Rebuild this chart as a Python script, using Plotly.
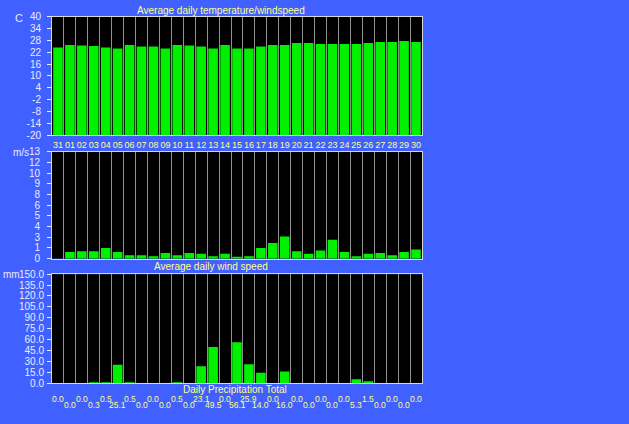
import plotly.graph_objects as go

days = ["31", "01", "02", "03", "04", "05", "06", "07", "08", "09", "10", "11", "12", "13", "14", "15",
        "16", "17", "18", "19", "20", "21", "22", "23", "24", "25", "26", "27", "28", "29", "30"]
temperature = [24.4, 25.7, 25.4, 25.2, 24.4, 23.9, 25.7, 24.9, 24.9, 23.9, 25.7, 25.4, 24.9, 23.9, 25.7, 23.9,
               23.9, 24.9, 25.7, 25.7, 26.7, 26.7, 26.2, 26.2, 26.2, 26.2, 26.7, 27.2, 27.2, 27.7, 27.2]
wind = [0.0, 0.8, 0.9, 0.9, 1.3, 0.8, 0.4, 0.4, 0.3, 0.7, 0.4, 0.7, 0.6, 0.3, 0.6, 0.2,
        0.3, 1.3, 1.9, 2.7, 0.9, 0.6, 1.0, 2.3, 0.8, 0.3, 0.6, 0.7, 0.4, 0.8, 1.1]
precip = [0.0, 0.0, 0.0, 0.3, 0.5, 25.1, 0.5, 0.0, 0.0, 0.0, 0.5, 0.0, 23.1, 49.5, 0.0, 56.1,
          25.9, 14.0, 0.0, 16.0, 0.0, 0.0, 0.0, 0.0, 0.0, 5.3, 1.5, 0.0, 0.0, 0.0, 0.0]
temp_ticks = [-20, -14, -8, -2, 4, 10, 16, 22, 28, 34, 40]
wind_tick_vals = [0, 1.3, 2.6, 3.9, 5.2, 6.5, 7.8, 9.1, 10.4, 11.7, 13.0]
wind_tick_text = ["0", "1", "3", "4", "5", "6", "8", "9", "10", "12", "13"]
precip_ticks = [0, 15, 30, 45, 60, 75, 90, 105, 120, 135, 150]
TEMP_FLOOR = -20

BG = "#4060FF"
GREEN = "#00F000"
WHITE = "#E8ECFF"
YELLOW = "#FFFF88"
FONT = "Liberation Sans"

W, H = 629, 424
def px(x):
    return x / W
def py(y):
    return 1 - y / H

x = list(range(len(days)))

fig = go.Figure()
fig.add_trace(go.Bar(x=x, y=[t - TEMP_FLOOR for t in temperature], base=TEMP_FLOOR,
                     marker=dict(color=GREEN, line=dict(width=0)),
                     xaxis="x", yaxis="y", showlegend=False))
fig.add_trace(go.Bar(x=x, y=wind, marker=dict(color=GREEN, line=dict(width=0)),
                     xaxis="x2", yaxis="y2", showlegend=False))
fig.add_trace(go.Bar(x=x, y=precip, marker=dict(color=GREEN, line=dict(width=0)),
                     xaxis="x3", yaxis="y3", showlegend=False))

def xax(anchor, labels):
    d = dict(domain=[px(52), px(422)], anchor=anchor, range=[-0.5, len(days) - 0.5],
             showgrid=False, zeroline=False, showline=True, linecolor="#D8D8D8", linewidth=1, mirror=True,
             tickmode="array", tickvals=x, ticks="", tickangle=0,
             minor=dict(tickmode="linear", tick0=0.5, dtick=1, showgrid=True, gridcolor="#909090",
                        gridwidth=1, ticks=""),
             fixedrange=True)
    if labels:
        d.update(ticktext=days, showticklabels=True, ticklabelstandoff=1,
                 tickfont=dict(family=FONT, size=9, color=YELLOW))
    else:
        d.update(ticktext=[""] * len(days), showticklabels=False)
    return d

def yax(anchor, dom, rng, vals, texts, standoff):
    d = dict(domain=dom, anchor=anchor, range=rng, tickmode="array", tickvals=vals, ticktext=texts,
             showgrid=False, zeroline=False, showline=True, linecolor="#D8D8D8", linewidth=1, mirror=True,
             ticks="outside", ticklen=4, tickcolor=WHITE, ticklabelstandoff=standoff,
             tickfont=dict(family=FONT, size=10, color=WHITE), fixedrange=True)
    return d

fig.update_layout(
    width=W, height=H, autosize=False,
    margin=dict(l=0, r=0, t=0, b=0),
    paper_bgcolor=BG, plot_bgcolor="black",
    bargap=0.2,
    font=dict(family=FONT, color=WHITE),
    xaxis=xax("y", True),
    xaxis2=xax("y2", False),
    xaxis3=xax("y3", False),
    yaxis=yax("x", [py(133), py(11)], [-20, 40], temp_ticks, [str(t) for t in temp_ticks], 4),
    yaxis2=yax("x2", [py(260), py(150)], [0, 13], wind_tick_vals, wind_tick_text, 5),
    yaxis3=yax("x3", [py(388), py(276)], [0, 150], precip_ticks, [f"{t:.1f}" for t in precip_ticks], 1),
)

ann = []
def text(t, xx, yy, size=9.5, color=YELLOW, xanchor="center"):
    ann.append(dict(text=t, x=px(xx), y=py(yy), xref="paper", yref="paper", showarrow=False,
                    xanchor=xanchor, yanchor="middle", font=dict(family=FONT, size=size, color=color)))

text("Average daily temperature/windspeed", 221, 5, size=10)
text("Average daily wind speed", 211, 268, size=10)
text("Daily Precipitation Total", 235, 395, size=10)
text("C", 19, 12, size=11, color=WHITE)
text("m/s", 11, 151, size=10, color=WHITE, xanchor="left")
text("mm", 1, 276, size=10, color=WHITE, xanchor="left")

for i, v in enumerate(precip):
    ann.append(dict(text=f"{v:.1f}", x=i, y=py(404 if i % 2 == 0 else 411), xref="x3", yref="paper",
                    showarrow=False, xanchor="center", yanchor="middle",
                    font=dict(family=FONT, size=8.5, color=YELLOW)))

fig.update_layout(annotations=ann)
fig.write_html("out.html", config={"displayModeBar": False},
               post_script="document.body.style.margin='0';document.body.style.background='" + BG + "';")
